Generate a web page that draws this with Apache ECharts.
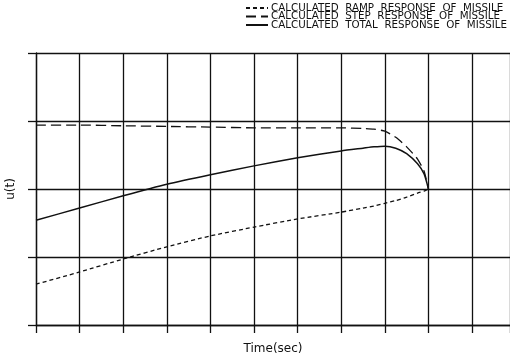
<!DOCTYPE html>
<html><head><meta charset="utf-8">
<script src="https://cdn.jsdelivr.net/npm/echarts@6/dist/echarts.min.js"></script>
<style>html,body{margin:0;padding:0;background:#fff}#c{width:510px;height:359px}</style>
</head><body><div id="c"></div>
<script>
var seriesNames = ['CALCULATED  RAMP  RESPONSE  OF  MISSILE', 'CALCULATED  STEP  RESPONSE  OF  MISSILE', 'CALCULATED  TOTAL  RESPONSE  OF  MISSILE'];
var time =   [0,     1,     2,     3,     4,     5,     6,     7,     7.5,   7.75,  8,     8.25,  8.5,   8.75,  8.9,   9];
var ramp =   [-1.40, -1.22, -1.03, -0.85, -0.69, -0.56, -0.44, -0.34, -0.28, -0.25, -0.21, -0.17, -0.12, -0.06, -0.03, 0];
var step =   [0.94,  0.94,  0.93,  0.92,  0.91,  0.90,  0.90,  0.90,  0.89,  0.88,  0.85,  0.76,  0.62,  0.44,  0.26,  0];
var total =  [-0.46, -0.28, -0.10, 0.07,  0.21,  0.34,  0.46,  0.56,  0.60,  0.62,  0.63,  0.60,  0.52,  0.37,  0.22,  0];
function pts(v){ return time.map(function(t,i){ return [t, v[i]]; }); }
var chart = echarts.init(document.getElementById('c'));
var gl = {color:'#111', width:1.3};
chart.setOption({
  animation:false,
  backgroundColor:'#fff',
  textStyle:{fontFamily:'DejaVu Sans'},
  legend:{
    orient:'vertical', left:240, top:-2, itemWidth:22, itemHeight:9, itemGap:-1.5,
    itemStyle:{opacity:0},
    textStyle:{fontSize:10.3, color:'#111', lineHeight:9, padding:[0,0,0,-2]},
    data:seriesNames
  },
  grid:{left:36, right:0, top:53, bottom:34, outerBoundsMode:'none', containLabel:false},
  xAxis:{type:'value', min:0, max:10.87, interval:1, name:'Time(sec)', nameLocation:'middle', nameGap:18,
    nameTextStyle:{fontSize:12, color:'#111'},
    axisLine:{show:true, onZero:false, lineStyle:gl}, axisTick:{show:true, length:8, lineStyle:gl}, axisLabel:{show:false},
    splitLine:{show:true, lineStyle:gl}},
  yAxis:{type:'value', min:-2, max:2, interval:1, name:'u(t)', nameLocation:'middle', nameGap:19, nameRotate:90,
    nameTextStyle:{fontSize:12, color:'#111'},
    axisLine:{show:true, onZero:false, lineStyle:gl}, axisTick:{show:true, length:8, lineStyle:gl}, axisLabel:{show:false},
    splitLine:{show:true, lineStyle:gl}},
  series:[
    {name:seriesNames[0], type:'line', data:pts(ramp), symbol:'none', smooth:0.2, lineStyle:{color:'#111', width:1.3, type:[4,3]}},
    {name:seriesNames[1], type:'line', data:pts(step), symbol:'none', smooth:0.2, lineStyle:{color:'#111', width:1.3, type:[10,5]}},
    {name:seriesNames[2], type:'line', data:pts(total), symbol:'none', smooth:0.2, lineStyle:{color:'#111', width:1.5, type:'solid'}}
  ]
});
</script></body></html>
